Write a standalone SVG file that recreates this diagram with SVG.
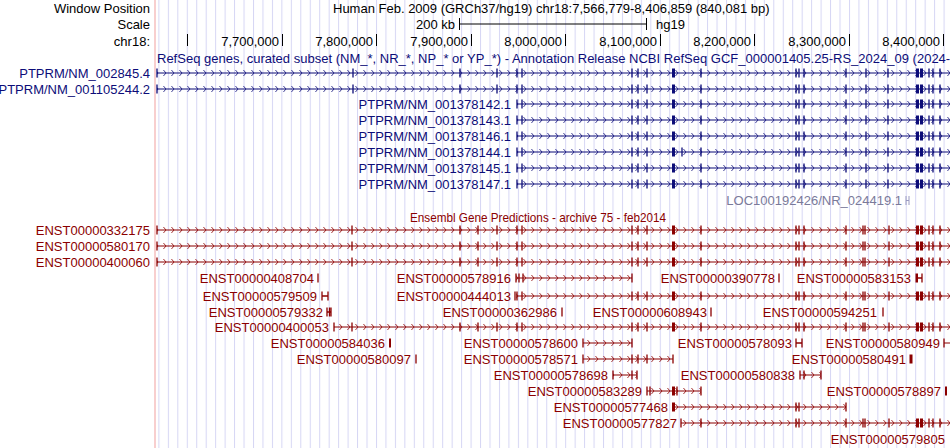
<svg xmlns="http://www.w3.org/2000/svg" xmlns:xlink="http://www.w3.org/1999/xlink" width="950" height="448" viewBox="0 0 950 448">
<style>
text{font-family:"Liberation Sans",Arial,sans-serif;font-size:13px}
.t{font-size:12px}
.h{fill:#000}
.b{fill:#0c0c78}
.r{fill:#8b0000}
.g{fill:#7a7a9a}
.e{text-anchor:end}
.bl{stroke:#0c0c78;fill:none}
.rl{stroke:#8b0000;fill:none}
.ex{stroke-width:1.3}
</style>
<defs>
<pattern id="gl" patternUnits="userSpaceOnUse" x="158.4" y="0" width="9.46" height="448"><rect x="0" y="0" width="1" height="448" fill="#d6d6f4"/></pattern>
<pattern id="cb" patternUnits="userSpaceOnUse" x="0" y="-3" width="8" height="6"><path d="M3,-0.5 L6,3 L3,6.5" stroke="#0c0c78" stroke-width="0.8" fill="none"/></pattern>
<pattern id="cr" patternUnits="userSpaceOnUse" x="0" y="-3" width="8" height="6"><path d="M3,-0.5 L6,3 L3,6.5" stroke="#8b0000" stroke-width="0.8" fill="none"/></pattern>
<g id="tailB">
<path d="M517 -4.5v9M522 -4.5v9M632 -4.5v9M638 -4.5v9M647 -4.5v9M701 -4.5v9M796 -4.5v9M799 -4.5v9M804 -4.5v9M846 -4.5v9M866 -4.5v9M888 -4.5v9M929 -4.5v9M933 -4.5v9M940 -4.5v9" class="bl ex"/>
<rect x="672" y="-4.5" width="3" height="9" fill="#0c0c78"/><rect x="916" y="-4.5" width="3" height="9" fill="#0c0c78"/><rect x="920" y="-4.5" width="3" height="9" fill="#0c0c78"/>
</g>
<g id="tailR">
<path d="M517 -4.5v9M522 -4.5v9M632 -4.5v9M638 -4.5v9M647 -4.5v9M701 -4.5v9M796 -4.5v9M799 -4.5v9M804 -4.5v9M846 -4.5v9M863 -4.5v9M865 -4.5v9M889 -4.5v9M929 -4.5v9M933 -4.5v9M940 -4.5v9" class="rl ex"/>
<rect x="672" y="-4.5" width="3" height="9" fill="#8b0000"/><rect x="916" y="-4.5" width="3" height="9" fill="#8b0000"/><rect x="920" y="-4.5" width="3" height="9" fill="#8b0000"/>
</g>
<g id="fullB">
<rect x="157" y="-0.5" width="793" height="1" fill="#0c0c78"/><rect x="157" y="-3" width="793" height="6" fill="url(#cb)"/>
<path d="M157 -4.5v9M353 -4.5v9M460 -4.5v9M497 -4.5v9" class="bl ex"/><use xlink:href="#tailB"/>
</g>
<g id="midB">
<rect x="517" y="-0.5" width="433" height="1" fill="#0c0c78"/><rect x="517" y="-3" width="433" height="6" fill="url(#cb)"/>
<use xlink:href="#tailB"/>
</g>
<g id="fullR">
<rect x="157" y="-0.5" width="793" height="1" fill="#8b0000"/><rect x="157" y="-3" width="793" height="6" fill="url(#cr)"/>
<path d="M157 -4.5v9M352 -4.5v9M460 -4.5v9M478 -4.5v9M497 -4.5v9" class="rl ex"/><use xlink:href="#tailR"/>
</g>
</defs>
<rect width="950" height="448" fill="#fff"/>
<rect x="155" y="0" width="795" height="448" fill="url(#gl)"/>
<rect x="154.5" y="0" width="1" height="448" fill="#f2a0a0"/>

<g id="header">
<text class="h e" x="150" y="13">Window Position</text>
<text class="h" x="333" y="13">Human Feb. 2009 (GRCh37/hg19)   chr18:7,566,779-8,406,859 (840,081 bp)</text>
<text class="h e" x="150" y="29">Scale</text>
<text class="h e" x="455" y="29">200 kb</text>
<path d="M459.5 18v12M459.5 24H646.5M646.5 18v12" stroke="#000" fill="none"/>
<text class="h" x="656" y="29">hg19</text>
<text class="h e" x="150" y="46">chr18:</text>
<path d="M187.5 34v12M282.5 34v12M376.5 34v12M471.5 34v12M565.5 34v12M660.5 34v12M754.5 34v12M849.5 34v12M943.5 34v12" stroke="#000" fill="none"/>
<text class="h e" x="279" y="46">7,700,000</text>
<text class="h e" x="373" y="46">7,800,000</text>
<text class="h e" x="468" y="46">7,900,000</text>
<text class="h e" x="562" y="46">8,000,000</text>
<text class="h e" x="657" y="46">8,100,000</text>
<text class="h e" x="751" y="46">8,200,000</text>
<text class="h e" x="846" y="46">8,300,000</text>
<text class="h e" x="940" y="46">8,400,000</text>
</g>

<g id="refseq">
<text class="b" x="157" y="63" textLength="812" lengthAdjust="spacing">RefSeq genes, curated subset (NM_*, NR_*, NP_* or YP_*) - Annotation Release NCBI RefSeq GCF_000001405.25-RS_2024_09 (2024-09)</text>
<text class="b e" x="150" y="78">PTPRM/NM_002845.4</text>
<text class="b e" x="150" y="94">PTPRM/NM_001105244.2</text>
<text class="b e" x="511" y="109">PTPRM/NM_001378142.1</text>
<text class="b e" x="511" y="125">PTPRM/NM_001378143.1</text>
<text class="b e" x="511" y="141">PTPRM/NM_001378146.1</text>
<text class="b e" x="511" y="157">PTPRM/NM_001378144.1</text>
<text class="b e" x="511" y="173">PTPRM/NM_001378145.1</text>
<text class="b e" x="511" y="189">PTPRM/NM_001378147.1</text>
<text class="g e" x="902" y="205">LOC100192426/NR_024419.1</text>
<path d="M906 196v9M909 196v9M906 200.5h3" stroke="#9a9ac0" fill="none"/>
</g>

<g id="connectors">
<use xlink:href="#fullB" transform="translate(0,73)"/>
<use xlink:href="#fullB" transform="translate(0,89)"/>
<use xlink:href="#midB" transform="translate(0,104)"/>
<use xlink:href="#midB" transform="translate(0,120)"/>
<use xlink:href="#midB" transform="translate(0,136)"/>
<use xlink:href="#midB" transform="translate(0,152)"/>
<path d="M682 147.5v9" class="bl ex"/>
<use xlink:href="#midB" transform="translate(0,168)"/>
<use xlink:href="#midB" transform="translate(0,184)"/>

<use xlink:href="#fullR" transform="translate(0,230)"/>
<use xlink:href="#fullR" transform="translate(0,246)"/>
<use xlink:href="#fullR" transform="translate(0,262)"/>

<g transform="translate(0,278)">
<path d="M318 -4.5v9" class="rl ex"/>
<rect x="516" y="-0.5" width="116" height="1" fill="#8b0000"/><rect x="516" y="-3" width="116" height="6" fill="url(#cr)"/>
<path d="M516 -4.5v9M519 -4.5v9M523 -4.5v9M632 -4.5v9" class="rl ex"/>
<path d="M779 -4.5v9" class="rl ex"/>
<rect x="915.5" y="-4.5" width="2.5" height="9" fill="#8b0000"/><path d="M922 -4.5v9M917 0h5" class="rl ex"/>
</g>
<g transform="translate(0,296)">
<path d="M322 -4.5v9M328 -4.5v9M322 0h6" class="rl ex"/>
<rect x="516" y="-0.5" width="434" height="1" fill="#8b0000"/><rect x="516" y="-3" width="434" height="6" fill="url(#cr)"/>
<path d="M515 -4.5v9" class="rl ex"/><use xlink:href="#tailR"/>
</g>
<g transform="translate(0,312)">
<path d="M327 -4.5v9M329.5 -4.5v9M331 -4.5v9M327 0h4" class="rl ex"/>
<path d="M562 -4.5v9M711 -4.5v9M883 -4.5v9" class="rl ex"/>
</g>
<g transform="translate(0,327)">
<rect x="334" y="-0.5" width="616" height="1" fill="#8b0000"/><rect x="334" y="-3" width="616" height="6" fill="url(#cr)"/>
<path d="M334 -4.5v9M352 -4.5v9M460 -4.5v9M478 -4.5v9M497 -4.5v9" class="rl ex"/><use xlink:href="#tailR"/>
</g>
<g transform="translate(0,343)">
<rect x="389" y="-4.5" width="2" height="9" fill="#8b0000"/>
<rect x="583" y="-0.5" width="49" height="1" fill="#8b0000"/><rect x="583" y="-3" width="49" height="6" fill="url(#cr)"/>
<path d="M583 -4.5v9M632 -4.5v9" class="rl ex"/>
<path d="M796 -4.5v9M802 -4.5v9M796 0h6" class="rl ex"/>
<rect x="944" y="-0.5" width="6" height="1" fill="#8b0000"/><path d="M944 -4.5v9" class="rl ex"/>
</g>
<g transform="translate(0,359)">
<path d="M416 -4.5v9" class="rl ex"/>
<rect x="583" y="-0.5" width="90" height="1" fill="#8b0000"/><rect x="583" y="-3" width="90" height="6" fill="url(#cr)"/>
<path d="M583 -4.5v9M632 -4.5v9M638 -4.5v9M647 -4.5v9M673 -4.5v9" class="rl ex"/>
<rect x="909.5" y="-4.5" width="3" height="9" fill="#8b0000"/>
</g>
<g transform="translate(0,375)">
<rect x="613" y="-0.5" width="24" height="1" fill="#8b0000"/><rect x="613" y="-3" width="24" height="6" fill="url(#cr)"/>
<path d="M613 -4.5v9M632 -4.5v9M637 -4.5v9" class="rl ex"/>
<rect x="800" y="-0.5" width="21" height="1" fill="#8b0000"/><rect x="800" y="-3" width="21" height="6" fill="url(#cr)"/>
<path d="M800 -4.5v9M804 -4.5v9M821 -4.5v9" class="rl ex"/>
</g>
<g transform="translate(0,391)">
<rect x="647" y="-0.5" width="54" height="1" fill="#8b0000"/><rect x="647" y="-3" width="54" height="6" fill="url(#cr)"/>
<path d="M647 -4.5v9M650 -4.5v9M677 -4.5v9M701 -4.5v9" class="rl ex"/><rect x="672" y="-4.5" width="3" height="9" fill="#8b0000"/>
<rect x="945" y="-4.5" width="2" height="9" fill="#8b0000"/>
</g>
<g transform="translate(0,407)">
<rect x="673" y="-0.5" width="173" height="1" fill="#8b0000"/><rect x="673" y="-3" width="173" height="6" fill="url(#cr)"/>
<rect x="672" y="-4.5" width="3" height="9" fill="#8b0000"/>
<path d="M796 -4.5v9M799 -4.5v9M846 -4.5v9" class="rl ex"/>
</g>
<g transform="translate(0,423)">
<rect x="681" y="-0.5" width="269" height="1" fill="#8b0000"/><rect x="681" y="-3" width="269" height="6" fill="url(#cr)"/>
<path d="M681 -4.5v9M701 -4.5v9M796 -4.5v9M799 -4.5v9M846 -4.5v9M863 -4.5v9M865 -4.5v9M889 -4.5v9M929 -4.5v9M933 -4.5v9M940 -4.5v9" class="rl ex"/>
<rect x="916" y="-4.5" width="3" height="9" fill="#8b0000"/><rect x="920" y="-4.5" width="3" height="9" fill="#8b0000"/>
</g>
</g>

<g id="ensembl">
<text class="r" x="410" y="222" textLength="256" lengthAdjust="spacingAndGlyphs">Ensembl Gene Predictions - archive 75 - feb2014</text>
<text class="r e" x="150" y="235">ENST00000332175</text>
<text class="r e" x="150" y="251">ENST00000580170</text>
<text class="r e" x="150" y="267">ENST00000400060</text>
<text class="r e" x="314" y="283">ENST00000408704</text>
<text class="r e" x="511" y="283">ENST00000578916</text>
<text class="r e" x="775" y="283">ENST00000390778</text>
<text class="r e" x="911" y="283">ENST00000583153</text>
<text class="r e" x="317" y="301">ENST00000579509</text>
<text class="r e" x="511" y="301">ENST00000444013</text>
<text class="r e" x="323" y="317">ENST00000579332</text>
<text class="r e" x="557" y="317">ENST00000362986</text>
<text class="r e" x="707" y="317">ENST00000608943</text>
<text class="r e" x="877" y="317">ENST00000594251</text>
<text class="r e" x="329" y="332">ENST00000400053</text>
<text class="r e" x="385" y="348">ENST00000584036</text>
<text class="r e" x="578" y="348">ENST00000578600</text>
<text class="r e" x="792" y="348">ENST00000578093</text>
<text class="r e" x="940" y="348">ENST00000580949</text>
<text class="r e" x="411" y="364">ENST00000580097</text>
<text class="r e" x="578" y="364">ENST00000578571</text>
<text class="r e" x="906" y="364">ENST00000580491</text>
<text class="r e" x="608" y="380">ENST00000578698</text>
<text class="r e" x="795" y="380">ENST00000580838</text>
<text class="r e" x="642" y="396">ENST00000583289</text>
<text class="r e" x="941" y="396">ENST00000578897</text>
<text class="r e" x="668" y="412">ENST00000577468</text>
<text class="r e" x="677" y="428">ENST00000577827</text>
<text class="r e" x="945" y="444">ENST00000579805</text>
</g>
</svg>
